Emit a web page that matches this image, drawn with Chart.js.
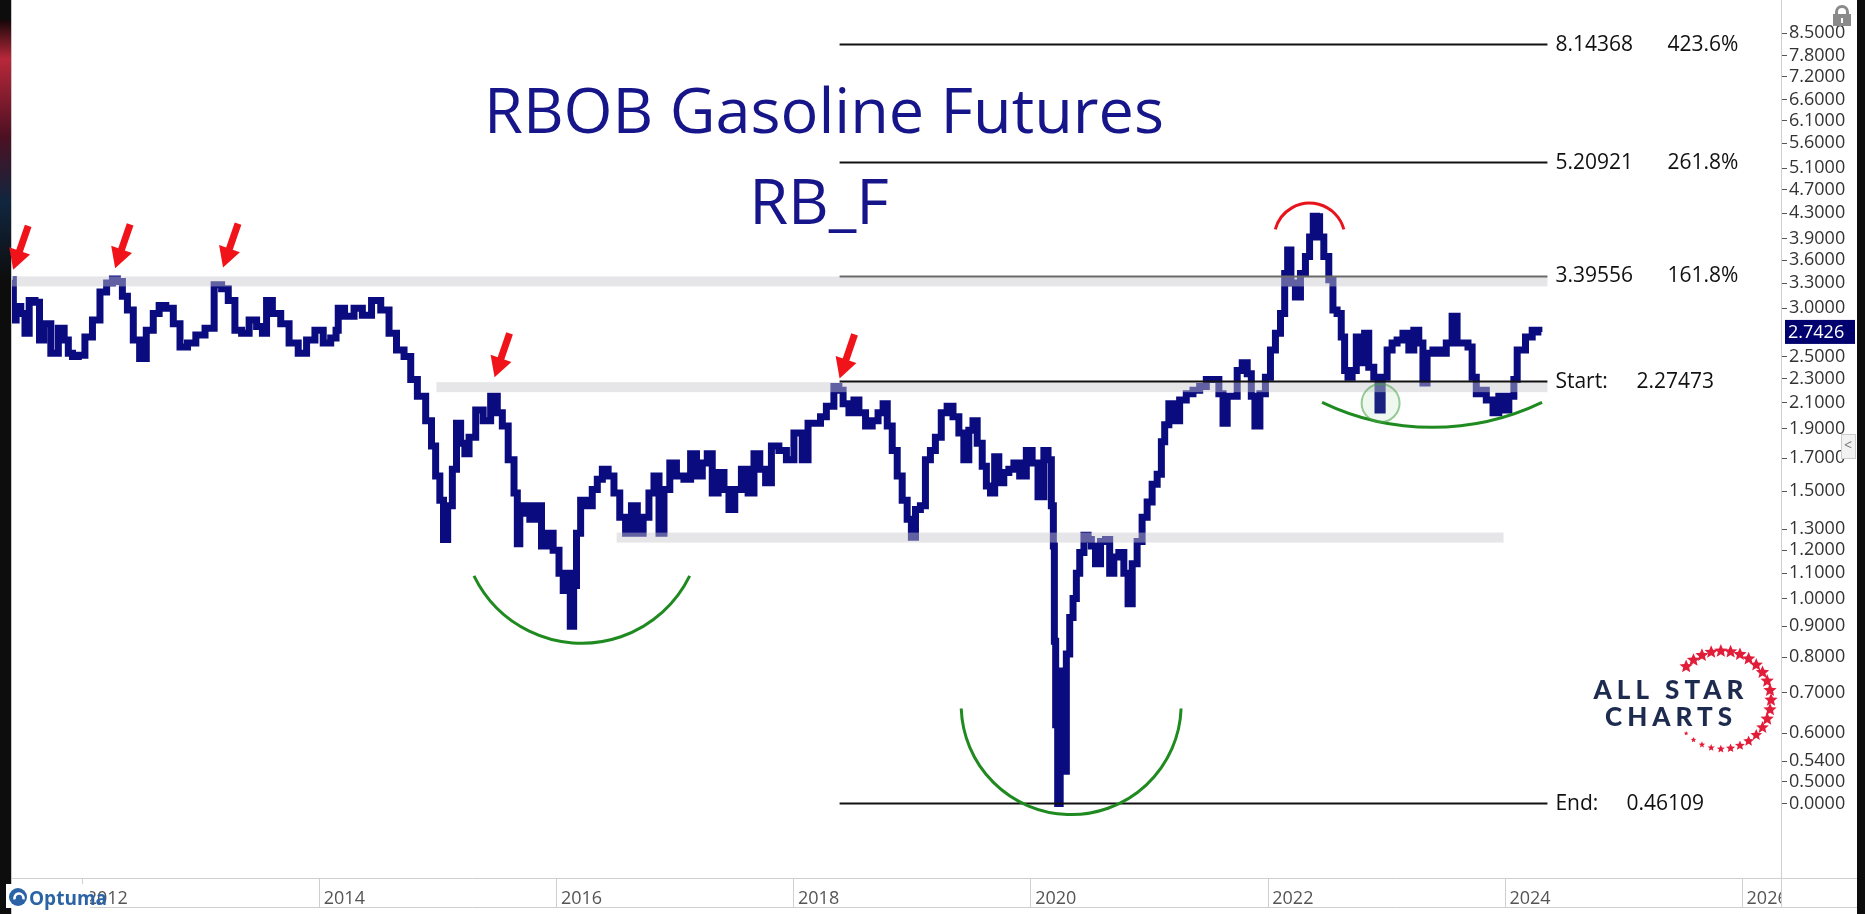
<!DOCTYPE html>
<html>
<head>
<meta charset="utf-8">
<script src="https://cdn.jsdelivr.net/npm/chart.js@4.4.1/dist/chart.umd.min.js"></script>
<style>
html, body { margin: 0; padding: 0; background: #0d0d0d; overflow: hidden; }
#wrap { position: absolute; left: 0; top: 0; width: 1865px; height: 914px; }
</style>
</head>
<body>
<div id="wrap"><canvas id="rb" width="1865" height="914"></canvas></div>
<script>
// weekly-ish closes (decimal years, $/gal)
const priceDates = [
  2011.416, 2011.427, 2011.463, 2011.505, 2011.534, 2011.576, 2011.632, 2011.652, 2011.702, 2011.773, 2011.829, 2011.871, 2011.899, 2011.941, 2011.997,
  2012.053, 2012.124, 2012.180, 2012.236, 2012.278, 2012.320, 2012.362, 2012.405, 2012.461, 2012.512, 2012.573, 2012.630, 2012.672, 2012.742, 2012.799, 2012.855, 2012.925, 2012.996,
  2013.080, 2013.150, 2013.206, 2013.262, 2013.318, 2013.375, 2013.445, 2013.501, 2013.543, 2013.571, 2013.641, 2013.712, 2013.782, 2013.866, 2013.923,
  2014.007, 2014.063, 2014.133, 2014.153, 2014.170, 2014.260, 2014.330, 2014.400, 2014.485, 2014.555, 2014.625, 2014.681, 2014.752, 2014.794, 2014.864, 2014.934, 2014.962,
  2015.004, 2015.033, 2015.066, 2015.103, 2015.145, 2015.173, 2015.215, 2015.244, 2015.286, 2015.356, 2015.412, 2015.482, 2015.524, 2015.567, 2015.623, 2015.665, 2015.679, 2015.707, 2015.750, 2015.805, 2015.862, 2015.890, 2015.946,
  2016.002, 2016.045, 2016.073, 2016.100, 2016.137, 2016.157, 2016.185, 2016.227, 2016.283, 2016.325, 2016.368, 2016.410, 2016.466, 2016.508, 2016.564, 2016.606, 2016.663, 2016.705, 2016.761, 2016.803, 2016.846, 2016.888, 2016.930, 2016.986,
  2017.042, 2017.112, 2017.155, 2017.211, 2017.253, 2017.295, 2017.337, 2017.394, 2017.436, 2017.478, 2017.534, 2017.590, 2017.647, 2017.689, 2017.745, 2017.787, 2017.843, 2017.913, 2017.970,
  2018.040, 2018.110, 2018.138, 2018.208, 2018.250, 2018.307, 2018.377, 2018.391, 2018.448, 2018.490, 2018.532, 2018.574, 2018.644, 2018.686, 2018.743, 2018.771, 2018.813, 2018.855, 2018.897, 2018.939, 2018.981,
  2019.010, 2019.050, 2019.093, 2019.135, 2019.177, 2019.219, 2019.276, 2019.318, 2019.375, 2019.417, 2019.459, 2019.501, 2019.529, 2019.572, 2019.614, 2019.642, 2019.684, 2019.712, 2019.754, 2019.796, 2019.839, 2019.881, 2019.937, 2019.993,
  2020.035, 2020.092, 2020.134, 2020.162, 2020.190, 2020.196, 2020.207, 2020.218, 2020.241, 2020.260, 2020.288, 2020.317, 2020.345, 2020.373, 2020.401, 2020.430, 2020.472, 2020.500, 2020.527, 2020.570, 2020.612, 2020.654, 2020.682, 2020.724, 2020.766, 2020.809, 2020.837, 2020.879, 2020.920, 2020.963,
  2021.005, 2021.047, 2021.090, 2021.118, 2021.146, 2021.188, 2021.230, 2021.286, 2021.342, 2021.399, 2021.455, 2021.511, 2021.568, 2021.610, 2021.638, 2021.680, 2021.722, 2021.765, 2021.807, 2021.849, 2021.876, 2021.910, 2021.960,
  2022.003, 2022.045, 2022.087, 2022.130, 2022.158, 2022.180, 2022.213, 2022.256, 2022.298, 2022.340, 2022.368, 2022.402, 2022.424, 2022.453, 2022.495, 2022.537, 2022.565, 2022.607, 2022.635, 2022.664, 2022.692, 2022.734, 2022.762, 2022.804, 2022.832, 2022.874, 2022.917, 2022.945, 2022.987,
  2023.029, 2023.071, 2023.113, 2023.170, 2023.212, 2023.254, 2023.296, 2023.324, 2023.366, 2023.423, 2023.479, 2023.535, 2023.577, 2023.619, 2023.676, 2023.704, 2023.746, 2023.774, 2023.816, 2023.873, 2023.929, 2023.971,
  2024.013, 2024.056, 2024.098, 2024.112, 2024.154, 2024.196, 2024.267, 2024.309
];
const priceValues = [
  3.34, 2.87, 3.02, 2.94, 2.73, 3.09, 3.07, 2.66, 2.83, 2.53, 2.78, 2.66, 2.53, 2.50, 2.51,
  2.69, 2.87, 3.19, 3.30, 3.35, 3.32, 3.14, 2.98, 2.66, 2.48, 2.76, 2.94, 3.03, 3.00, 2.83, 2.59, 2.63, 2.71,
  2.78, 3.28, 3.23, 3.09, 2.76, 2.73, 2.87, 2.80, 2.73, 3.09, 2.94, 2.83, 2.63, 2.53, 2.66,
  2.76, 2.63, 2.68, 2.76, 3.00, 2.91, 3.00, 2.92, 3.09, 2.98, 2.73, 2.56, 2.50, 2.29, 2.15, 1.96, 1.78,
  1.59, 1.45, 1.25, 1.42, 1.63, 1.94, 1.80, 1.73, 1.84, 2.04, 1.96, 2.15, 2.02, 1.92, 1.69, 1.49, 1.23, 1.38, 1.42, 1.35, 1.42, 1.22, 1.28,
  1.20, 1.10, 1.03, 1.10, 0.90, 1.05, 1.28, 1.45, 1.42, 1.51, 1.57, 1.63, 1.59, 1.49, 1.36, 1.28, 1.42, 1.28, 1.36, 1.49, 1.59, 1.28, 1.51, 1.67,
  1.59, 1.57, 1.73, 1.59, 1.67, 1.73, 1.49, 1.61, 1.51, 1.40, 1.51, 1.63, 1.49, 1.73, 1.63, 1.55, 1.78, 1.75, 1.69,
  1.87, 1.69, 1.94, 1.94, 1.99, 2.07, 2.23, 2.20, 2.09, 2.02, 2.12, 2.02, 1.92, 1.96, 2.02, 2.09, 1.92, 1.75, 1.59, 1.45, 1.35,
  1.26, 1.40, 1.42, 1.69, 1.75, 1.84, 2.02, 2.07, 1.99, 1.87, 1.69, 1.89, 1.96, 1.80, 1.65, 1.53, 1.49, 1.71, 1.55, 1.61, 1.63, 1.67, 1.59, 1.75,
  1.67, 1.47, 1.75, 1.69, 1.42, 1.22, 0.85, 0.62, 0.46, 0.76, 0.52, 0.81, 0.93, 1.00, 1.10, 1.19, 1.27, 1.25, 1.22, 1.14, 1.24, 1.25, 1.10, 1.17, 1.19, 1.10, 0.98, 1.14, 1.24, 1.36,
  1.44, 1.54, 1.60, 1.81, 1.93, 2.09, 1.96, 2.12, 2.17, 2.20, 2.23, 2.29, 2.29, 2.17, 1.94, 2.15, 2.15, 2.37, 2.44, 2.34, 2.15, 1.92, 2.17,
  2.31, 2.56, 2.73, 2.94, 3.42, 3.74, 3.30, 3.13, 3.42, 3.65, 3.93, 4.25, 4.24, 3.93, 3.65, 3.34, 2.98, 2.94, 2.69, 2.37, 2.31, 2.37, 2.69, 2.44, 2.73, 2.40, 2.31, 2.04, 2.31,
  2.56, 2.63, 2.66, 2.73, 2.56, 2.76, 2.63, 2.26, 2.53, 2.56, 2.53, 2.63, 2.91, 2.63, 2.63, 2.59, 2.31, 2.17, 2.20, 2.12, 2.02, 2.15,
  2.04, 2.15, 2.29, 2.56, 2.56, 2.69, 2.76, 2.7426
];
const lastPrice = 2.7426;

const xTickYears = [2012, 2014, 2016, 2018, 2020, 2022, 2024, 2026];
const yTickValues = [8.5, 7.8, 7.2, 6.6, 6.1, 5.6, 5.1, 4.7, 4.3, 3.9, 3.6, 3.3, 3.0, 2.5, 2.3, 2.1, 1.9, 1.7, 1.5, 1.3, 1.2, 1.1, 1.0, 0.9, 0.8, 0.7, 0.6, 0.54, 0.5, 0.46];
const yTickLabels = ['8.5000', '7.8000', '7.2000', '6.6000', '6.1000', '5.6000', '5.1000', '4.7000', '4.3000', '3.9000', '3.6000', '3.3000', '3.0000', '2.5000', '2.3000', '2.1000', '1.9000', '1.7000', '1.5000', '1.3000', '1.2000', '1.1000', '1.0000', '0.9000', '0.8000', '0.7000', '0.6000', '0.5400', '0.5000', '0.0000'];

// fibonacci extension, drawn from the 2018 high
const fibLevels = [8.14368, 5.20921, 3.39556, 2.27473, 0.46109];
const fibNames = ['8.14368', '5.20921', '3.39556', 'Start:', 'End:'];
const fibValues = ['423.6%', '261.8%', '161.8%', '2.27473', '0.46109'];
const fibFrom = 2018.39, fibTo = 2024.36;

// grey support / resistance bands
const bandPrices = [3.32, 2.225, 1.259];
const bandFrom = [2011.41, 2014.99, 2016.51];
const bandTo = [2024.36, 2024.36, 2023.99];

// red arrows (tip positions)
const arrowYears = [2011.42, 2012.28, 2013.19, 2015.48, 2018.39];
const arrowPrices = [3.47, 3.49, 3.50, 2.31, 2.30];

// hand drawn arcs: centre (year, price), radius px, angles deg
const arcYears = [2016.216, 2020.343, 2022.354, 2023.387];
const arcPrices = [1.329, 0.669, 3.905, 5.01];
const arcRadius = [120, 110, 35.5, 254.5];
const arcFromDeg = [26, 2, 195, 64.4];
const arcToDeg = [154, 178, 345, 115.6];
const arcColors = ['#1f8a1f', '#1f8a1f', '#e8141c', '#1f8a1f'];
const ringYear = 2022.953, ringPrice = 2.095;

const FONT = "'Open Sans', 'Noto Sans', sans-serif";

const decor = {
  id: 'decor',
  beforeDraw(chart) {
    const ctx = chart.ctx;
    ctx.save();
    ctx.fillStyle = '#0d0d0d';
    ctx.fillRect(0, 0, 1865, 914);
    const g = ctx.createLinearGradient(0, 20, 0, 280);
    g.addColorStop(0, '#160709');
    g.addColorStop(0.15, '#b8283a');
    g.addColorStop(0.45, '#4c1022');
    g.addColorStop(0.7, '#10263f');
    g.addColorStop(1, '#0d0d0d');
    ctx.fillStyle = g;
    ctx.fillRect(0, 20, 11, 260);
    ctx.fillStyle = '#ffffff';
    ctx.fillRect(11, 0, 1846, 914);
    ctx.strokeStyle = '#c8c8c8';
    ctx.lineWidth = 1;
    ctx.beginPath();
    ctx.moveTo(11.5, 0); ctx.lineTo(11.5, 914);
    ctx.stroke();
    ctx.restore();
  },
  afterDatasetsDraw(chart) {
    const ctx = chart.ctx;
    const xs = chart.scales.x, ys = chart.scales.y;
    const px = v => xs.getPixelForValue(v), py = v => ys.getPixelForValue(v);
    ctx.save();

    // bands sit over the price line, semi transparent
    ctx.fillStyle = 'rgba(200,200,206,0.45)';
    bandPrices.forEach((p, i) => {
      const y = py(p);
      ctx.fillRect(px(bandFrom[i]), y - 5, px(bandTo[i]) - px(bandFrom[i]), 10);
    });

    // fib lines
    fibLevels.forEach((lv, i) => {
      const y = Math.round(py(lv)) + 0.5;
      ctx.strokeStyle = i === 2 ? '#6a6a6a' : '#111111';
      ctx.lineWidth = 2;
      ctx.beginPath();
      ctx.moveTo(px(fibFrom), y); ctx.lineTo(px(fibTo), y);
      ctx.stroke();
    });

    // arcs
    ctx.lineWidth = 3;
    arcYears.forEach((yr, i) => {
      ctx.strokeStyle = arcColors[i];
      ctx.beginPath();
      ctx.arc(px(yr), py(arcPrices[i]), arcRadius[i], arcFromDeg[i] * Math.PI / 180, arcToDeg[i] * Math.PI / 180);
      ctx.stroke();
    });

    // faint ring round the 2022 low
    ctx.beginPath();
    ctx.arc(px(ringYear), py(ringPrice), 19, 0, Math.PI * 2);
    ctx.fillStyle = 'rgba(120,200,120,0.12)';
    ctx.fill();
    ctx.strokeStyle = 'rgba(70,160,70,0.55)';
    ctx.lineWidth = 2;
    ctx.stroke();

    // arrows
    ctx.fillStyle = '#f0141a';
    ctx.strokeStyle = '#f0141a';
    arrowYears.forEach((yr, i) => {
      const tx = px(yr), ty = py(arrowPrices[i]);
      const dx = -15, dy = 44;
      const len = Math.hypot(dx, dy), ux = dx / len, uy = dy / len;
      const nx = -uy, ny = ux;
      const hx = tx - ux * 20, hy = ty - uy * 20;
      ctx.lineWidth = 7;
      ctx.beginPath();
      ctx.moveTo(tx - ux * len, ty - uy * len);
      ctx.lineTo(hx + ux * 2, hy + uy * 2);
      ctx.stroke();
      ctx.beginPath();
      ctx.moveTo(tx, ty);
      ctx.lineTo(hx + nx * 11, hy + ny * 11);
      ctx.lineTo(hx - nx * 11, hy - ny * 11);
      ctx.closePath();
      ctx.fill();
    });
    ctx.restore();
  },
  afterDraw(chart) {
    const ctx = chart.ctx;
    const xs = chart.scales.x, ys = chart.scales.y;
    const px = v => xs.getPixelForValue(v), py = v => ys.getPixelForValue(v);
    const area = chart.chartArea;
    ctx.save();

    // x axis band frame
    ctx.fillStyle = '#ffffff';
    ctx.fillRect(area.right + 1, area.bottom + 1, 1857 - area.right - 1, 914 - area.bottom);
    ctx.strokeStyle = '#cfcfcf';
    ctx.lineWidth = 1;
    ctx.beginPath();
    ctx.moveTo(11, area.bottom + 0.5); ctx.lineTo(1857, area.bottom + 0.5);
    ctx.moveTo(11, 907.5); ctx.lineTo(1857, 907.5);
    ctx.moveTo(area.right + 0.5, 0); ctx.lineTo(area.right + 0.5, 907);
    xTickYears.forEach(yr => {
      const x = Math.round(px(yr)) + 0.5;
      ctx.moveTo(x, area.bottom); ctx.lineTo(x, 907);
    });
    ctx.stroke();

    // title
    ctx.fillStyle = '#16168a';
    ctx.font = '63px ' + FONT;
    ctx.textAlign = 'center';
    ctx.textBaseline = 'alphabetic';
    ctx.fillText('RBOB Gasoline Futures', 824, 133);
    ctx.fillText('RB_F', 819, 224);

    // fib labels
    ctx.fillStyle = '#111111';
    ctx.font = '21px ' + FONT;
    ctx.textBaseline = 'middle';
    const xe = px(fibTo);
    fibLevels.forEach((lv, i) => {
      const y = py(lv) + 1;
      ctx.textAlign = 'left';
      ctx.fillText(fibNames[i], xe + 8, y);
      if (i < 3) {
        ctx.textAlign = 'right';
        ctx.fillText(fibValues[i], xe + 191, y);
      } else {
        ctx.textAlign = 'left';
        ctx.fillText(fibValues[i], xe + (i === 3 ? 89 : 79), y);
      }
    });

    // last price flag
    const ly = py(lastPrice);
    ctx.fillStyle = '#00006e';
    ctx.fillRect(area.right + 4, ly - 12, 70, 24);
    ctx.fillStyle = '#ffffff';
    ctx.font = '18px ' + FONT;
    ctx.textAlign = 'left';
    ctx.fillText(lastPrice.toFixed(4), area.right + 7, ly + 1);

    // All Star Charts logo
    ctx.fillStyle = '#1d2b4f';
    ctx.font = "900 26px Lato, 'Open Sans', sans-serif";
    ctx.textAlign = 'center';
    ctx.letterSpacing = '5px';
    ctx.fillText('ALL STAR', 1671, 691);
    ctx.fillText('CHARTS', 1671, 718);
    ctx.letterSpacing = '0px';
    const star = (cx, cy, r) => {
      ctx.beginPath();
      for (let k = 0; k < 10; k++) {
        const rr = k % 2 === 0 ? r : r * 0.45;
        const a = -Math.PI / 2 + k * Math.PI / 5;
        ctx.lineTo(cx + rr * Math.cos(a), cy + rr * Math.sin(a));
      }
      ctx.closePath();
      ctx.fill();
    };
    ctx.fillStyle = '#e21d3a';
    for (let k = 0; k <= 24; k++) {
      const deg = -137 + k * (274 / 24);
      const a = deg * Math.PI / 180;
      let r = 7;
      if (deg > 25) r = 7 - (deg - 25) / 112 * 4.6;
      star(1722 + 49 * Math.cos(a), 700 + 49 * Math.sin(a), r);
    }

    // Optuma logo
    ctx.fillStyle = '#ffffff';
    ctx.fillRect(6, 884, 84, 24);
    ctx.fillStyle = '#2b63a6';
    ctx.beginPath(); ctx.arc(18, 897, 9, 0, Math.PI * 2); ctx.fill();
    ctx.strokeStyle = '#ffffff'; ctx.lineWidth = 2.5;
    ctx.beginPath(); ctx.arc(19, 898, 4.5, Math.PI * 0.9, Math.PI * 2.1); ctx.stroke();
    ctx.fillStyle = '#2b63a6';
    ctx.font = "bold 19px 'Liberation Sans Narrow', 'Open Sans', sans-serif";
    ctx.textAlign = 'left';
    ctx.textBaseline = 'alphabetic';
    ctx.fillText('Optuma', 29, 905);

    // padlock
    ctx.fillStyle = '#8a8a8a';
    ctx.strokeStyle = '#8a8a8a';
    ctx.lineWidth = 3;
    ctx.beginPath(); ctx.arc(1842, 12, 5.5, Math.PI, 0); ctx.stroke();
    ctx.beginPath(); ctx.moveTo(1836.5, 12); ctx.lineTo(1836.5, 15); ctx.moveTo(1847.5, 12); ctx.lineTo(1847.5, 15); ctx.stroke();
    ctx.fillRect(1833, 14, 18, 12);
    ctx.fillStyle = '#ffffff';
    ctx.fillRect(1841, 18, 2, 5);

    // side tab
    ctx.fillStyle = '#f2f2f2';
    ctx.strokeStyle = '#cccccc';
    ctx.lineWidth = 1;
    ctx.fillRect(1841, 434, 14, 24);
    ctx.strokeRect(1841.5, 434.5, 14, 24);
    ctx.fillStyle = '#777';
    ctx.font = '14px ' + FONT;
    ctx.textAlign = 'center';
    ctx.textBaseline = 'middle';
    ctx.fillText('<', 1848, 446);
    ctx.restore();
  }
};

const points = priceDates.map((d, i) => ({ x: d, y: priceValues[i] }));

new Chart(document.getElementById('rb'), {
  type: 'line',
  data: {
    datasets: [{
      data: points,
      borderColor: '#0b0b80',
      borderWidth: 7,
      pointRadius: 0,
      stepped: 'middle',
      borderJoinStyle: 'miter',
      fill: false
    }]
  },
  options: {
    responsive: false,
    animation: false,
    layout: { padding: { left: 12, right: 8, top: 0, bottom: 6 } },
    plugins: { legend: { display: false }, tooltip: { enabled: false } },
    scales: {
      x: {
        type: 'linear',
        position: 'bottom',
        min: 2011.41,
        max: 2026.33,
        afterBuildTicks: s => { s.ticks = xTickYears.map(v => ({ value: v })); },
        afterFit: s => { s.height = 30; },
        grid: { display: false },
        border: { display: false },
        ticks: {
          align: 'start',
          autoSkip: false,
          maxRotation: 0,
          padding: 2,
          color: '#555555',
          font: { family: FONT, size: 18 },
          callback: v => ' ' + v
        }
      },
      y: {
        type: 'logarithmic',
        position: 'right',
        bounds: 'data',
        min: 0.347,
        max: 9.18,
        afterBuildTicks: s => { s.ticks = yTickValues.map(v => ({ value: v })); },
        afterFit: s => { s.width = 76; },
        grid: { drawOnChartArea: false, drawTicks: true, tickLength: 6, color: '#555555' },
        border: { display: false },
        ticks: {
          autoSkip: false,
          padding: 2,
          color: '#333333',
          font: { family: FONT, size: 18 },
          callback: (v, i) => yTickLabels[i]
        }
      }
    }
  },
  plugins: [decor]
});
</script>
</body>
</html>
